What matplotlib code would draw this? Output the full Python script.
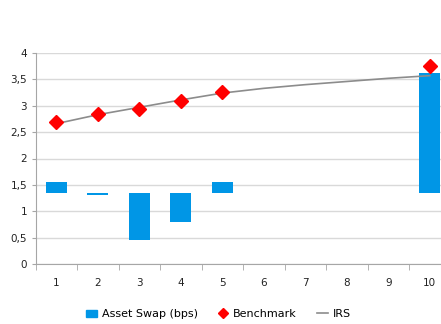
import matplotlib.pyplot as plt
import numpy as np
from matplotlib.ticker import FuncFormatter, MultipleLocator
from matplotlib.lines import Line2D
from matplotlib.patches import Patch

plt.rcParams['font.family'] = ['DejaVu Sans']
plt.rcParams['font.size'] = 7.5

categories = ['1', '2', '3', '4', '5', '6', '7', '8', '9', '10']
swap_base = 1.34
asset_swap = [0.22, -0.04, -0.88, -0.55, 0.22, np.nan, np.nan, np.nan, np.nan, 2.28]
benchmark = [2.69, 2.85, 2.93, 3.09, 3.26, np.nan, np.nan, np.nan, np.nan, 3.75]
irs = [2.66, 2.83, 2.97, 3.11, 3.24, 3.33, 3.40, 3.46, 3.52, 3.57]

blue = '#0096e6'
grid_col = '#d9d9d9'
axis_col = '#a6a6a6'

fig = plt.figure(figsize=(4.41, 3.24), dpi=100)
ax = fig.add_axes([35.5 / 441, 60 / 324, 415 / 441, 211 / 324])

x = np.arange(len(categories))
ax.bar(x, asset_swap, bottom=swap_base, width=0.5, color=blue, zorder=2)
ax.plot(x, irs, color='#8c8c8c', lw=1.2, zorder=3)
ax.plot(x, benchmark, ls='none', marker='D', ms=7, color='#ff0000', zorder=4)

ax.set_xlim(-0.5, len(categories) - 0.5)
ax.set_ylim(0, 4)
ax.yaxis.set_major_locator(MultipleLocator(0.5))
ax.yaxis.set_major_formatter(FuncFormatter(lambda v, p: ('%g' % v).replace('.', ',')))
ax.yaxis.grid(True, color=grid_col, lw=1)
ax.set_axisbelow(True)

ax.set_xticks(x)
ax.set_xticklabels(categories)
ax.set_xticks(np.arange(len(categories) + 1) - 0.5, minor=True)
ax.tick_params(axis='x', which='major', length=0, pad=10, colors='#222222')
ax.tick_params(axis='x', which='minor', length=4, color=axis_col)
ax.tick_params(axis='y', length=3, pad=3, colors='#222222')
ax.tick_params(axis='y', color=axis_col)

for side in ['top', 'right']:
    ax.spines[side].set_visible(False)
for side in ['left', 'bottom']:
    ax.spines[side].set_color(axis_col)

handles = [
    Patch(color=blue, label='Asset Swap (bps)'),
    Line2D([], [], ls='none', marker='D', ms=5, color='#ff0000', label='Benchmark'),
    Line2D([], [], color='#8c8c8c', lw=1.2, label='IRS'),
]
fig.legend(handles=handles, loc='center', bbox_to_anchor=(0.495, 0.03), ncol=3,
           frameon=False, handlelength=1.0, handletextpad=0.4, columnspacing=1.8,
           fontsize=8)

fig.savefig('out.png', dpi=100)
